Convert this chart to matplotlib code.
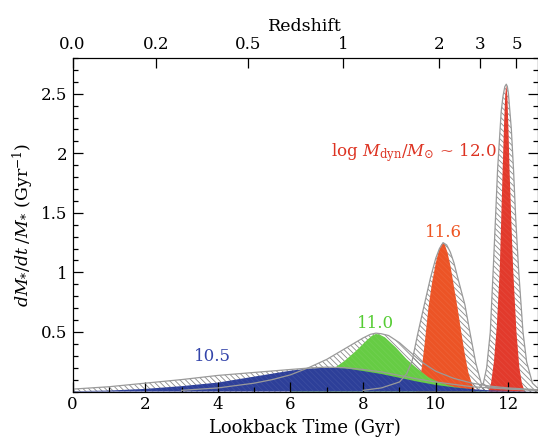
import numpy as np
import matplotlib
matplotlib.use("Agg")
import matplotlib.pyplot as plt
from matplotlib.ticker import MultipleLocator, FixedLocator

plt.rcParams['font.family'] = ['DejaVu Serif']
plt.rcParams['mathtext.fontset'] = 'dejavuserif'
plt.rcParams['hatch.linewidth'] = 0.6

# best-fit SFHs (lookback time in Gyr, dM/dt/M in Gyr^-1)
t_105 = [0.0, 1.0, 2.0, 3.0, 4.0, 5.0, 6.0, 6.5, 7.0, 7.5, 8.0, 8.5, 9.0, 9.5, 10.0, 10.5, 11.0, 11.5, 12.0, 12.8]
v_105 = [0.003, 0.008, 0.022, 0.045, 0.075, 0.125, 0.175, 0.193, 0.200, 0.195, 0.172, 0.147, 0.115, 0.083, 0.055, 0.035, 0.02, 0.01, 0.005, 0.0]
t_110 = [6.0, 6.5, 7.0, 7.5, 7.8, 8.1, 8.25, 8.35, 8.45, 8.6, 8.9, 9.2, 9.5, 9.8, 10.1, 10.5, 11.0, 11.5]
v_110 = [0.04, 0.08, 0.15, 0.26, 0.34, 0.43, 0.47, 0.483, 0.478, 0.455, 0.37, 0.27, 0.19, 0.12, 0.075, 0.04, 0.015, 0.0]
t_116 = [9.45, 9.55, 9.62, 9.7, 9.8, 9.9, 10.0, 10.08, 10.15, 10.2, 10.25, 10.32, 10.4, 10.5, 10.6, 10.7, 10.8, 10.9, 11.0, 11.1]
v_116 = [0.0, 0.08, 0.21, 0.42, 0.71, 0.92, 1.08, 1.18, 1.235, 1.245, 1.23, 1.17, 1.06, 0.88, 0.70, 0.50, 0.31, 0.155, 0.06, 0.0]
t_120 = [11.45, 11.52, 11.6, 11.68, 11.76, 11.84, 11.88, 11.91, 11.94, 11.97, 12.0, 12.03, 12.08, 12.13, 12.22, 12.3, 12.37, 12.45]
v_120 = [0.0, 0.07, 0.25, 0.55, 1.02, 1.86, 2.25, 2.48, 2.575, 2.48, 2.2, 1.86, 1.42, 1.02, 0.5, 0.2, 0.07, 0.0]

# upper envelopes of the allowed range (hatched)
te_105 = [0.0, 1.0, 2.0, 3.0, 4.0, 5.0, 6.0, 6.5, 7.0, 7.5, 8.0, 8.5, 9.0, 9.5, 10.0, 10.5, 11.0, 12.0, 12.8]
ve_105 = [0.02, 0.04, 0.07, 0.10, 0.135, 0.16, 0.185, 0.197, 0.205, 0.20, 0.185, 0.165, 0.135, 0.105, 0.08, 0.06, 0.04, 0.02, 0.01]
te_110 = [3.0, 4.0, 5.0, 5.5, 6.0, 6.5, 7.0, 7.5, 8.0, 8.2, 8.35, 8.5, 8.7, 9.0, 9.3, 9.6, 10.0, 10.5, 11.0, 11.5, 12.0, 12.8]
ve_110 = [0.01, 0.03, 0.07, 0.1, 0.14, 0.20, 0.27, 0.36, 0.45, 0.48, 0.49, 0.485, 0.47, 0.41, 0.33, 0.25, 0.17, 0.11, 0.07, 0.045, 0.03, 0.015]
te_116 = [8.0, 8.5, 9.0, 9.2, 9.35, 9.5, 9.67, 9.85, 10.0, 10.1, 10.2, 10.3, 10.4, 10.5, 10.6, 10.8, 10.95, 11.1, 11.25, 11.4, 11.7, 12.2, 12.8]
ve_116 = [0.01, 0.03, 0.08, 0.15, 0.26, 0.48, 0.71, 0.95, 1.12, 1.2, 1.25, 1.23, 1.17, 1.08, 0.96, 0.73, 0.48, 0.24, 0.07, 0.04, 0.03, 0.02, 0.01]
te_120 = [11.2, 11.31, 11.4, 11.5, 11.58, 11.65, 11.7, 11.8, 11.85, 11.9, 11.94, 11.97, 12.0, 12.08, 12.14, 12.2, 12.28, 12.4, 12.5, 12.66, 12.8]
ve_120 = [0.03, 0.07, 0.2, 0.5, 1.02, 1.5, 1.86, 2.35, 2.48, 2.56, 2.58, 2.56, 2.5, 2.2, 1.86, 1.45, 1.02, 0.5, 0.25, 0.07, 0.03]

# redshift axis: lookback time of each labelled z
z_labels = ['0.0', '0.2', '0.5', '1', '2', '3', '5']
z_tlook = [0.0, 2.3, 4.83, 7.45, 10.08, 11.22, 12.22]

# drawn so that the broad low-mass SFH sits on top
bins = [
    (t_120, v_120, te_120, ve_120, '#e23a2c'),
    (t_116, v_116, te_116, ve_116, '#ec5426'),
    (t_110, v_110, te_110, ve_110, '#66cc44'),
    (t_105, v_105, te_105, ve_105, '#2d3f99'),
]
labels = [('10.5', 3.85, 0.22, '#3344aa'),
          ('11.0', 8.35, 0.50, '#55cc33'),
          ('11.6', 10.2, 1.26, '#ee5522')]

fig = plt.figure(figsize=(5.38, 4.45), dpi=100)
ax = fig.add_axes([0.1348, 0.1202, 0.8643, 0.7495])

hatch = '\\\\\\\\\\\\'
for t, v, te, ve, col in bins:
    ax.fill_between(te, 0, ve, facecolor='none', edgecolor='#8a8a8a', hatch=hatch, linewidth=0)
for t, v, te, ve, col in bins:
    ax.fill_between(t, 0, v, facecolor=col, edgecolor='none')
    # faint hatching shows through the coloured fills
    ax.fill_between(t, 0, v, facecolor='none', edgecolor=(1, 1, 1, 0.07), hatch=hatch, linewidth=0)
for t, v, te, ve, col in bins:
    ax.plot(te, ve, color='#9a9a9a', lw=0.9)

for lab, lx, ly, lcol in labels:
    ax.text(lx, ly, lab, color=lcol, fontsize=12, ha='center', va='bottom')
ax.text(9.38, 1.91, r'log $M_{\mathrm{dyn}}/M_{\odot}$ ~ 12.0', color='#dd3322', fontsize=12, ha='center', va='bottom')

ax.set_xlim(0, 12.8)
ax.set_ylim(0, 2.8)
ax.xaxis.set_major_locator(MultipleLocator(2))
ax.xaxis.set_minor_locator(MultipleLocator(1))
ax.yaxis.set_major_locator(FixedLocator([0.5, 1.0, 1.5, 2.0, 2.5]))
ax.yaxis.set_minor_locator(MultipleLocator(0.1))
ax.set_yticklabels(['0.5', '1', '1.5', '2', '2.5'])
ax.tick_params(which='both', direction='in', right=True, top=False, labelsize=12, width=0.9)
ax.tick_params(which='major', length=7)
ax.tick_params(which='minor', length=3.5)
ax.set_xlabel('Lookback Time (Gyr)', fontsize=13)
ax.set_ylabel(r'$dM_{*}/dt\;/M_{*}$ (Gyr$^{-1}$)', fontsize=12.5)

axt = ax.twiny()
axt.set_xlim(ax.get_xlim())
axt.set_xticks(z_tlook)
axt.set_xticklabels(z_labels)
axt.tick_params(direction='in', length=7, labelsize=12, width=0.9)
axt.set_xlabel('Redshift', fontsize=12.5)

fig.savefig('out.png', dpi=100)
